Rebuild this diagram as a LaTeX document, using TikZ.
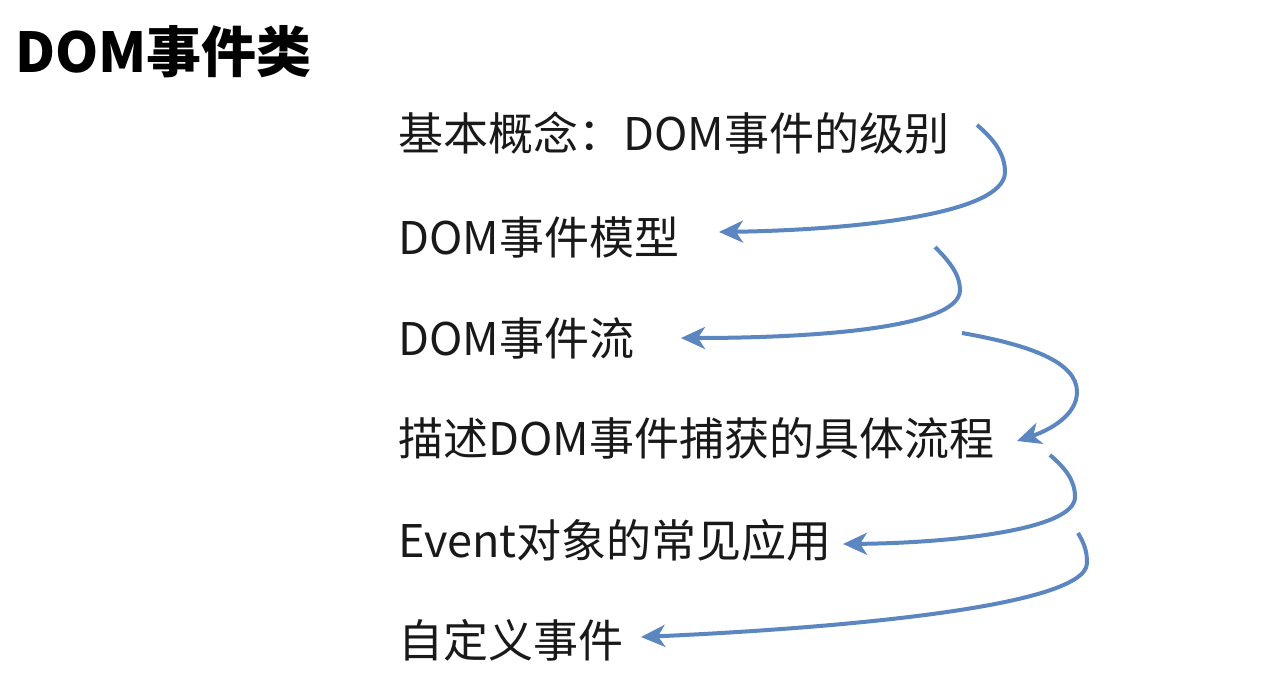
\documentclass[tikz,border=0pt]{standalone}
\usepackage{fontspec}
\setmainfont{Noto Sans CJK SC}
\usetikzlibrary{arrows.meta}
\definecolor{arrowblue}{RGB}{91,134,192}
\tikzset{
  item/.style={anchor=base west, inner sep=0pt, font=\fontsize{45}{54}\selectfont, text=black!90},
  titletext/.style={anchor=base west, inner sep=0pt, font=\fontsize{55}{66}\selectfont\bfseries},
  flow/.style={draw=arrowblue, line width=4pt, -{Stealth[length=24pt,width=22pt,inset=7pt]}}
}
\begin{document}
\begin{tikzpicture}[x=1pt,y=-1pt]
\useasboundingbox[fill=white] (0,0) rectangle (1267,696);
\node[titletext] (title) at (15,72) {DOM事件类};
\node[item] (i1) at (398,150) {基本概念：DOM事件的级别};
\node[item] (i2) at (398,254) {DOM事件模型};
\node[item] (i3) at (398,355) {DOM事件流};
\node[item] (i4) at (398,455) {描述DOM事件捕获的具体流程};
\node[item] (i5) at (398,557) {Event对象的常见应用};
\node[item] (i6) at (398,657) {自定义事件};
% arrow ends
\coordinate (s1) at (977,125);  \coordinate (t1) at (719,232);
\coordinate (s2) at (935,247);  \coordinate (t2) at (681,338);
\coordinate (s3) at (962,333);  \coordinate (t3) at (1017,441);
\coordinate (s4) at (1050,455); \coordinate (t4) at (843,544);
\coordinate (s5) at (1078,533); \coordinate (t5) at (641,637);
\draw[flow] (s1) .. controls (995,140) and (1005,155) .. (1005,172)
  .. controls (1005,215) and (850,230) .. (t1);
\draw[flow] (s2) .. controls (950,262) and (960,275) .. (960,290)
  .. controls (960,330) and (800,338) .. (t2);
\draw[flow] (s3) .. controls (1030,345) and (1077,362) .. (1077,392)
  .. controls (1077,415) and (1050,430) .. (t3);
\draw[flow] (s4) .. controls (1065,468) and (1075,480) .. (1075,497)
  .. controls (1075,530) and (950,543) .. (t4);
\draw[flow] (s5) .. controls (1085,545) and (1087,552) .. (1087,563)
  .. controls (1087,610) and (800,630) .. (t5);
\end{tikzpicture}
\end{document}
